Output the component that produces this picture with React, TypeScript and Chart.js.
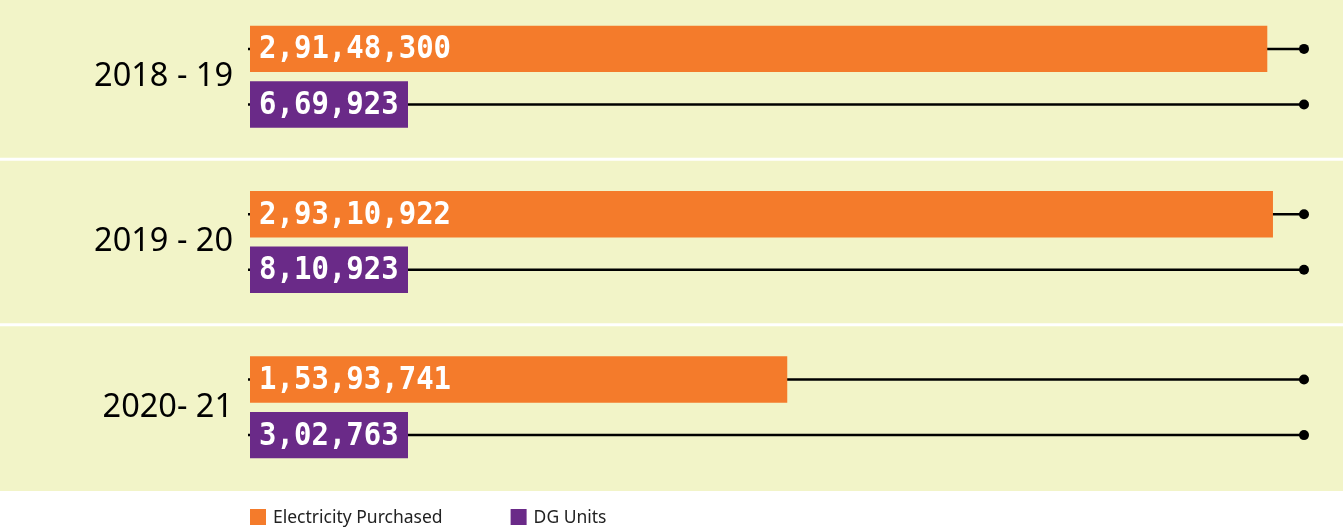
import React, { useEffect, useRef } from "react";
import { Chart, registerables } from "chart.js";

Chart.register(...registerables);

// ---- data ----
const categories = ["2018 - 19", "2019 - 20", "2020- 21"];
const electricityPurchased = [29148300, 29310922, 15393741];
const dgUnits = [669923, 810923, 302763];
const seriesNames = ["Electricity Purchased", "DG Units"];
const axisMax = 30200000;

// ---- styles ----
const ORANGE = "#F47B2B";
const PURPLE = "#6A2A88";
const BAND_BG = "#F2F4C8";
const SHIFT = 6; // canvas is raised by this many pixels so the first band is cut at the top

function fmtIndian(n: number): string {
  const s = String(Math.round(n));
  if (s.length <= 3) return s;
  const last3 = s.slice(-3);
  let rest = s.slice(0, -3);
  const parts: string[] = [];
  while (rest.length > 2) {
    parts.unshift(rest.slice(-2));
    rest = rest.slice(0, -2);
  }
  if (rest) parts.unshift(rest);
  return parts.join(",") + "," + last3;
}

const decorPlugin = {
  id: "decor",
  beforeDraw(chart: any) {
    const { ctx, chartArea, scales } = chart;
    const y = scales.y;
    ctx.save();
    ctx.fillStyle = BAND_BG;
    const top = SHIFT;
    ctx.fillRect(0, top, chart.width, chartArea.bottom + 1 - top);
    ctx.strokeStyle = "#ffffff";
    ctx.lineWidth = 3;
    for (let i = 1; i < categories.length; i++) {
      const py = (y.getPixelForValue(i - 1) + y.getPixelForValue(i)) / 2;
      ctx.beginPath();
      ctx.moveTo(0, py);
      ctx.lineTo(chart.width, py);
      ctx.stroke();
    }
    ctx.restore();
  },
  beforeDatasetsDraw(chart: any) {
    const { ctx, scales } = chart;
    const x = scales.x;
    ctx.save();
    const xEnd = x.getPixelForValue(axisMax);
    const xStart = x.getPixelForValue(0) - 2;
    chart.data.datasets.forEach((_ds: any, di: number) => {
      const meta = chart.getDatasetMeta(di);
      meta.data.forEach((el: any) => {
        ctx.strokeStyle = "#000000";
        ctx.lineWidth = 2.5;
        ctx.beginPath();
        ctx.moveTo(xStart, el.y);
        ctx.lineTo(xEnd, el.y);
        ctx.stroke();
        ctx.fillStyle = "#000000";
        ctx.beginPath();
        ctx.arc(xEnd, el.y, 5, 0, Math.PI * 2);
        ctx.fill();
      });
    });
    ctx.restore();
  },
  afterDatasetsDraw(chart: any) {
    const { ctx } = chart;
    chart.data.datasets.forEach((ds: any, di: number) => {
      const meta = chart.getDatasetMeta(di);
      meta.data.forEach((el: any, i: number) => {
        const v = ds.data[i] as number;
        ctx.save();
        ctx.translate(el.base + 9, el.y + 1);
        ctx.scale(1, 1.13);
        ctx.font = 'bold 29px "DejaVu Sans Mono"';
        ctx.fillStyle = "#ffffff";
        ctx.textAlign = "left";
        ctx.textBaseline = "middle";
        ctx.fillText(fmtIndian(v), 0, 0);
        ctx.restore();
      });
    });
  },
  afterDraw(chart: any) {
    const { ctx, chartArea } = chart;
    ctx.save();
    ctx.font = '17.5px "Noto Sans"';
    ctx.textBaseline = "middle";
    ctx.textAlign = "left";
    const yc = chartArea.bottom + 27;
    let cx = chartArea.left;
    chart.data.datasets.forEach((ds: any) => {
      ctx.fillStyle = ds.backgroundColor;
      ctx.fillRect(cx, yc - 8, 16, 16);
      ctx.fillStyle = "#222222";
      ctx.fillText(ds.label, cx + 23, yc + 1);
      cx = cx + 23 + ctx.measureText(ds.label).width + 68;
    });
    ctx.restore();
  },
};

export default function App() {
  const canvasRef = useRef<HTMLCanvasElement | null>(null);

  useEffect(() => {
    if (!canvasRef.current) return;
    const chart = new Chart(canvasRef.current, {
      type: "bar",
      data: {
        labels: categories,
        datasets: [
          {
            label: seriesNames[0],
            data: electricityPurchased,
            backgroundColor: ORANGE,
            borderWidth: 0,
            categoryPercentage: 0.672,
            barPercentage: 0.836,
          },
          {
            label: seriesNames[1],
            data: dgUnits,
            backgroundColor: PURPLE,
            borderWidth: 0,
            categoryPercentage: 0.672,
            barPercentage: 0.836,
            minBarLength: 158,
          },
        ],
      },
      options: {
        indexAxis: "y",
        responsive: false,
        animation: false,
        layout: { padding: { left: 0, right: 39, top: 0, bottom: 40 } },
        plugins: {
          legend: { display: false },
          tooltip: { enabled: false },
        },
        scales: {
          x: {
            display: false,
            min: 0,
            max: axisMax,
          },
          y: {
            grid: { display: false, drawTicks: false },
            border: { display: false },
            ticks: {
              color: "#000000",
              font: { family: '"Noto Sans"', size: 32.5 },
              padding: 17,
            },
            afterFit: (scale: any) => {
              scale.width = 250;
              scale.paddingTop = 0;
              scale.paddingBottom = 0;
            },
          },
        },
      },
      plugins: [decorPlugin],
    } as any);
    return () => chart.destroy();
  }, []);

  return (
    <div style={{ position: "absolute", left: 0, top: -SHIFT, width: 1343, height: 530 + SHIFT, overflow: "hidden" }}>
      <canvas ref={canvasRef} width={1343} height={530 + SHIFT} style={{ display: "block" }} />
    </div>
  );
}
